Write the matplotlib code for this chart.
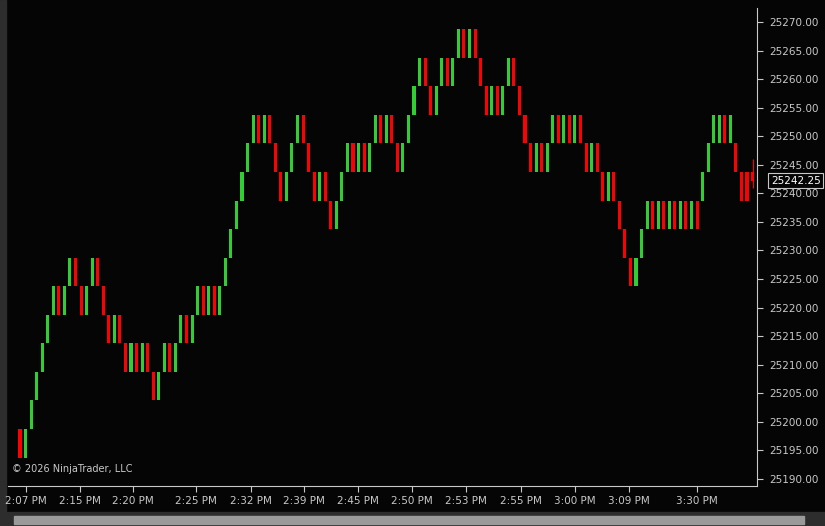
import numpy as np
import matplotlib.pyplot as plt
from matplotlib.patches import Rectangle

base = 25193.75
brick = 5.0

# brick level (0 = 25193.75-25198.75) and direction (1 up/green, 0 down/red)
levels = [0, 0, 1, 2, 3, 4, 5, 5, 5, 6, 6, 5, 5, 6, 6, 5, 4, 4, 4, 3, 3, 3, 3, 3, 2, 2, 3, 3, 3, 4, 4, 4, 5, 5, 5, 5, 5, 6, 7,
          8, 9, 10, 11, 11, 11, 11, 10, 9, 9, 10, 11, 11, 10, 9, 9, 9, 8, 8, 9, 10, 10, 10, 10, 10, 11, 11, 11, 11, 10, 10,
          11, 12, 13, 13, 12, 12, 13, 13, 13, 14, 14, 14, 14, 13, 12, 12,
          12, 12, 13, 13, 12, 11, 10, 10, 10, 10, 11, 11, 11, 11, 11, 11, 10, 10, 10, 9, 9, 9, 8, 7, 6, 6, 7, 8,
          8, 8, 8, 8, 8, 8, 8, 8, 8, 9, 10, 11, 11, 11, 11, 10, 9, 9]
ups = [0, 1, 1, 1, 1, 1, 1, 0, 1, 1, 0, 0, 1, 1, 0, 0, 0, 1, 0, 0, 1, 0, 1, 0, 0, 1, 1, 0, 1, 1, 0, 1, 1, 0, 1, 0, 1, 1, 1,
       1, 1, 1, 1, 0, 1, 0, 0, 0, 1, 1, 1, 0, 0, 0, 1, 0, 0, 1, 1, 1, 0, 1, 0, 1, 1, 0, 1, 0, 0, 1,
       1, 1, 1, 0, 0, 1, 1, 0, 1, 1, 0, 1, 0, 0, 0, 1,
       0, 1, 1, 0, 0, 0, 0, 1, 0, 1, 1, 0, 1, 0, 1, 0, 0, 1, 0, 0, 1, 0, 0, 0, 0, 1, 1, 1,
       0, 1, 0, 1, 0, 1, 0, 1, 0, 1, 1, 1, 1, 0, 1, 0, 0, 0, 1]

last_price = 25242.25
last_open = 25243.75
last_high = 25246.0
last_low = 25241.0

tick_pos = [1.1, 10.8, 20.4, 31.7, 41.6, 51.2, 60.9, 70.6, 80.4, 90.3, 100.0, 109.7, 121.9]
tick_labels = ["2:07 PM", "2:15 PM", "2:20 PM", "2:25 PM", "2:32 PM", "2:39 PM", "2:45 PM",
               "2:50 PM", "2:53 PM", "2:55 PM", "3:00 PM", "3:09 PM", "3:30 PM"]
price_ticks = np.arange(25190, 25271, 5)

green = "#32cd32"
red = "#ff0000"
fg = "#c8c8c8"

fig = plt.figure(figsize=(8.25, 5.26), dpi=100, facecolor="#050505")
# gray window frame: left strip and bottom scroll area
fig.patches.append(Rectangle((0, 0), 6/825, 1, transform=fig.transFigure, color="#2d2d2d", zorder=-5))
fig.patches.append(Rectangle((0, 0), 1, 14/526, transform=fig.transFigure, color="#2d2d2d", zorder=-5))
fig.patches.append(Rectangle((14/825, 2/526), 790/825, 8/526, transform=fig.transFigure,
                             color="#9a9a9a", zorder=-4))

ax = fig.add_axes([8/825, 40/526, 749/825, 478/526], facecolor="#050505")

idx = np.arange(len(levels))
lo = base + brick * np.array(levels)
cols = [green if u else red for u in ups]
ax.bar(idx, brick, bottom=lo, width=0.55, color=cols, linewidth=0)

# current forming bar
n = len(levels)
ax.vlines(n, last_low, last_high, color=red, linewidth=0.8)
ax.bar(n, last_open - last_price, bottom=last_price, width=0.55, color=red, linewidth=0)

ax.set_xlim(-2.16, 132.8)
ax.set_ylim(25188.77, 25272.45)
ax.yaxis.tick_right()
ax.set_yticks(price_ticks)
ax.set_yticklabels([f"{p:.2f}" for p in price_ticks])
ax.set_xticks(tick_pos)
ax.set_xticklabels(tick_labels)
ax.tick_params(colors=fg, labelsize=7.5, length=4, width=0.8)
ax.tick_params(axis="y", pad=5)
ax.tick_params(axis="x", pad=3)
for s in ["top", "left"]:
    ax.spines[s].set_visible(False)
ax.spines["right"].set_color(fg)
ax.spines["bottom"].set_color(fg)

# last price marker
ax.annotate(f"{last_price:.2f}", xy=(1.0, last_price), xycoords=("axes fraction", "data"),
            xytext=(10, 0), textcoords="offset points", va="center", ha="left",
            color="white", fontsize=7.5,
            bbox=dict(boxstyle="square,pad=0.25", fc="#050505", ec=fg, lw=0.8))

ax.text(0.005, 0.025, "© 2026 NinjaTrader, LLC", transform=ax.transAxes,
        color=fg, fontsize=7, ha="left", va="bottom")

fig.savefig("out.png", dpi=100, facecolor=fig.get_facecolor())
